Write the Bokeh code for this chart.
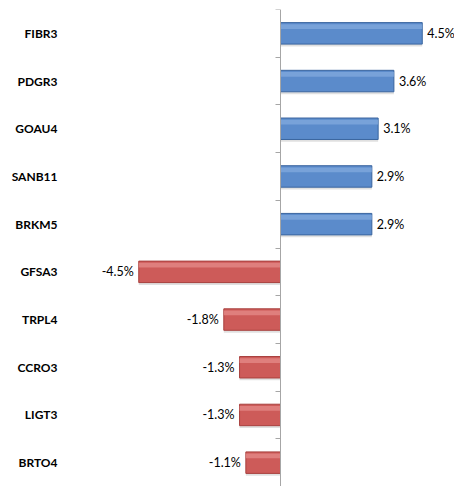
from bokeh.plotting import figure
from bokeh.models import (ColumnDataSource, Range1d, LinearAxis, FixedTicker,
                          LabelSet, CustomJSTickFormatter)
from bokeh.core.properties import value
from bokeh.embed import file_html
from bokeh.resources import INLINE

categories = ["FIBR3", "PDGR3", "GOAU4", "SANB11", "BRKM5",
              "GFSA3", "TRPL4", "CCRO3", "LIGT3", "BRTO4"]
values = [4.5, 3.6, 3.1, 2.9, 2.9, -4.5, -1.8, -1.3, -1.3, -1.1]
value_labels = ["4.5%", "3.6%", "3.1%", "2.9%", "2.9%",
                "-4.5%", "-1.8%", "-1.3%", "-1.3%", "-1.1%"]

n = len(categories)
ypos = list(range(n))
pos = [v >= 0 for v in values]
src = ColumnDataSource(dict(
    y=ypos,
    v=values,
    lab=value_labels,
    y_shadow=[y + 0.05 for y in ypos],
    y_hi=[y - 0.14 for y in ypos],
    fill=["#5b8bcb" if p else "#cd5b59" for p in pos],
    edge=["#3a659f" if p else "#a8403e" for p in pos],
    hi=["#7fa7dc" if p else "#e48886" for p in pos],
    align=["left" if p else "right" for p in pos],
    xoff=[5 if p else -5 for p in pos],
))

W, H = 454, 486
left_border = 57
zero_px = 280
scale = 31.5  # px per percent
x_start = -(zero_px - left_border) / scale
x_end = (W - zero_px) / scale

p = figure(width=W, height=H, output_backend="svg", toolbar_location=None,
           x_range=Range1d(x_start, x_end), y_range=Range1d(n - 0.5, -0.5),
           min_border_left=left_border, min_border_right=0,
           min_border_top=9, min_border_bottom=0)
p.outline_line_color = None
p.xgrid.visible = False
p.ygrid.visible = False
p.xaxis.visible = False
p.background_fill_color = "white"
p.border_fill_color = "white"

# shadow
p.hbar(y="y_shadow", right="v", left=0, height=0.45, source=src,
       fill_color="#000000", fill_alpha=0.12, line_color=None)
# main bars
p.hbar(y="y", right="v", left=0, height=0.45, source=src,
       fill_color="fill", line_color="edge", line_width=1)
# top highlight
p.hbar(y="y_hi", right="v", left=0, height=0.1, source=src,
       fill_color="hi", fill_alpha=0.8, line_color=None)

labels = LabelSet(x="v", y="y", text="lab", source=src, x_offset="xoff",
                  text_align="align", text_baseline="middle",
                  text_font=value("Lato"), text_font_size="12.5px",
                  text_color="#000000")
p.add_layout(labels)

# category axis
ya = p.yaxis[0]
ya.ticker = FixedTicker(ticks=ypos)
ya.major_label_overrides = {i: c for i, c in zip(ypos, categories)}
ya.axis_line_color = None
ya.major_tick_line_color = None
ya.major_tick_out = 0
ya.major_tick_in = 0
ya.minor_tick_line_color = None
ya.major_label_standoff = 0
ya.major_label_text_font = "Lato"
ya.major_label_text_font_style = "bold"
ya.major_label_text_font_size = "12px"
ya.major_label_text_color = "#000000"

# center axis at zero
ca = LinearAxis(fixed_location=0,
                ticker=FixedTicker(ticks=[y - 0.5 for y in range(n + 1)]),
                formatter=CustomJSTickFormatter(code="return ''"),
                major_tick_out=5, major_tick_in=0,
                minor_tick_line_color=None,
                axis_line_color="#a6a6a6", major_tick_line_color="#a6a6a6")
p.add_layout(ca, "left")

open("out.html", "w").write(file_html(p, INLINE))
